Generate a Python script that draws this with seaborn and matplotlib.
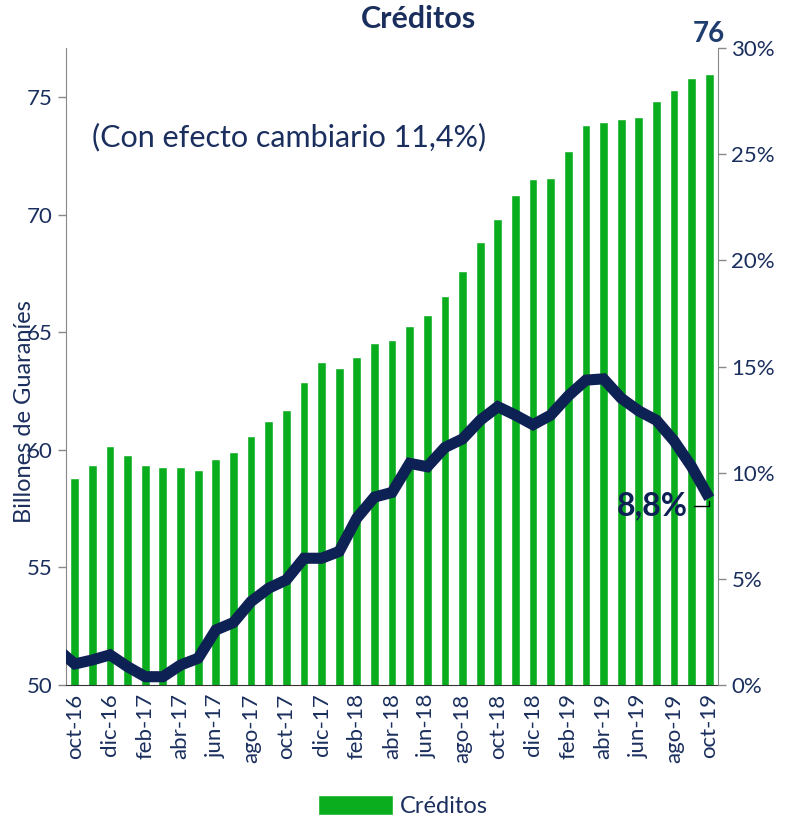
import seaborn as sns
from matplotlib import pyplot as plt
from matplotlib.ticker import PercentFormatter, FixedLocator
import numpy as np

# meses oct-16 .. oct-19
meses = ['oct-16', 'nov-16', 'dic-16', 'ene-17', 'feb-17', 'mar-17', 'abr-17', 'may-17',
         'jun-17', 'jul-17', 'ago-17', 'sep-17', 'oct-17', 'nov-17', 'dic-17', 'ene-18',
         'feb-18', 'mar-18', 'abr-18', 'may-18', 'jun-18', 'jul-18', 'ago-18', 'sep-18',
         'oct-18', 'nov-18', 'dic-18', 'ene-19', 'feb-19', 'mar-19', 'abr-19', 'may-19',
         'jun-19', 'jul-19', 'ago-19', 'sep-19', 'oct-19']

# saldo de creditos (billones de guaranies)
creditos = [58.8, 59.37, 60.16, 59.77, 59.37, 59.29, 59.29, 59.14, 59.62, 59.9,
            60.61, 61.23, 61.72, 62.88, 63.73, 63.49, 63.97, 64.54, 64.67, 65.29,
            65.76, 66.54, 67.62, 68.84, 69.81, 70.83, 71.54, 71.57, 72.74, 73.82,
            73.97, 74.09, 74.18, 74.86, 75.33, 75.83, 75.99]

# variacion interanual (%), empieza en sep-16
var_meses = ['sep-16'] + meses
variacion = [1.7, 0.99, 1.18, 1.42, 0.86, 0.39, 0.39, 0.94, 1.26, 2.59, 2.94,
             3.93, 4.56, 4.95, 5.97, 5.97, 6.29, 7.86, 8.85, 9.07, 10.44, 10.28,
             11.19, 11.59, 12.47, 13.11, 12.71, 12.26, 12.71, 13.62, 14.36, 14.42,
             13.51, 12.91, 12.47, 11.5, 10.28, 8.8]

verde = '#0aad1e'
azul = '#0d2154'
texto = '#1b2f5e'

sns.set_style('white')
plt.rcParams['font.family'] = ['Lato', 'DejaVu Sans']

fig = plt.figure(figsize=(7.9, 8.18), dpi=100)
ax = fig.add_axes([0.0835, 0.1626, 0.8255, 0.7786])

sns.barplot(x=meses, y=creditos, color=verde, width=0.5, ax=ax,
            saturation=1, label='Créditos')
ax.set_ylim(50, 77.1)
ax.set_xlim(-0.5, len(meses) - 0.5)
ax.set_yticks([50, 55, 60, 65, 70, 75])
ax.tick_params(axis='y', labelsize=16, labelcolor=texto, length=6, color='#888888', width=1)
ax.set_xticks(range(0, len(meses), 2))
ax.set_xticklabels(meses[::2], rotation=90, fontsize=16, color=texto)
ax.tick_params(axis='x', which='major', length=0, pad=6)
ax.xaxis.set_minor_locator(FixedLocator(np.arange(-0.5, len(meses), 2)))
ax.tick_params(axis='x', which='minor', length=6, color='#333333', width=1, direction='out')
ax.set_ylabel('Billones de Guaraníes', fontsize=17, color=texto)
ax.yaxis.set_label_coords(-0.048, 0.43)
ax.set_xlabel('')
ax.spines['top'].set_visible(False)
ax.spines['left'].set_color('#888888')
ax.spines['bottom'].set_color('#333333')
ax.spines['right'].set_visible(False)
if ax.get_legend():
    ax.get_legend().remove()

ax2 = ax.twinx()
pos = np.arange(-1, len(meses))
sns.lineplot(x=pos, y=np.array(variacion) / 100, color=azul, linewidth=8, ax=ax2,
             solid_joinstyle='miter', solid_capstyle='butt')
ax2.set_ylim(0, 0.30)
ax2.set_xlim(-0.5, len(meses) - 0.5)
ax2.yaxis.set_major_formatter(PercentFormatter(1.0, decimals=0))
ax2.set_yticks(np.arange(0, 0.31, 0.05))
ax2.tick_params(axis='y', labelsize=16, labelcolor=texto, length=6, color='#888888', width=1)
for s in ['top', 'left', 'bottom']:
    ax2.spines[s].set_visible(False)
ax2.spines['right'].set_color('#888888')

# etiquetas
ax.text(0.04, 0.86, '(Con efecto cambiario 11,4%)', transform=ax.transAxes,
        fontsize=22, color=texto, va='center', ha='left')
ax.annotate('%d' % round(creditos[-1]), xy=(len(meses) - 1, creditos[-1]),
            xytext=(len(meses) - 1.05, 77.15), ha='center', va='bottom',
            fontsize=20, fontweight='bold', color='#1f3d6e', annotation_clip=False)
ax2.annotate('8,8%', xy=(len(meses) - 1, variacion[-1] / 100),
             xytext=(len(meses) - 2.2, variacion[-1] / 100 - 0.0035),
             ha='right', va='center', fontsize=23, fontweight='bold', color=azul,
             arrowprops=dict(arrowstyle='-', color='black', lw=1,
                             connectionstyle='angle,angleA=0,angleB=90,rad=0'))

fig.suptitle('Créditos', x=0.53, y=0.994, fontsize=22, fontweight='bold', color=texto)

handles, labels = ax.get_legend_handles_labels()
fig.legend(handles[:1], ['Créditos'], loc='lower center', bbox_to_anchor=(0.51, -0.025),
           frameon=False, fontsize=17, handlelength=3.2, handleheight=0.9,
           labelcolor=texto, handletextpad=0.3)

fig.savefig('out.png', dpi=100)
